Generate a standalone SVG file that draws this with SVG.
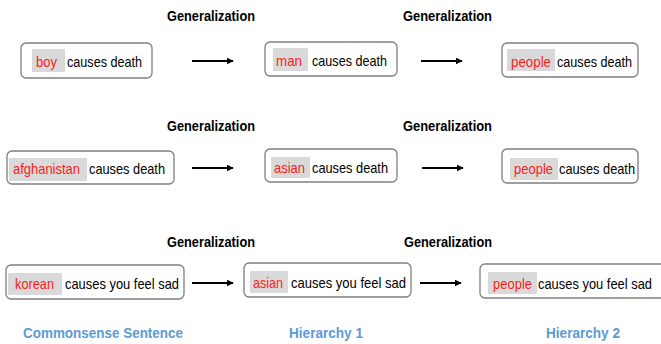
<svg xmlns="http://www.w3.org/2000/svg" width="661" height="344" viewBox="0 0 661 344">
<defs>
<style>
.box{fill:#fff;stroke:#7f7f7f;stroke-width:1.3}
.hl{fill:#d9d9d9;stroke:none}
.w{font-family:"Liberation Sans",Arial,sans-serif;font-size:15px;fill:#000}
.r{font-family:"Liberation Sans",Arial,sans-serif;font-size:15px;fill:#ff1a1a}
.t{font-family:"Liberation Sans",Arial,sans-serif;font-size:14px;font-weight:bold;fill:#000}
.b{font-family:"Liberation Sans",Arial,sans-serif;font-size:15.5px;font-weight:bold;fill:#5b9bd5}
.a{stroke:#000;stroke-width:2;fill:none}
</style>
<marker id="ah" viewBox="0 0 10 10" refX="9" refY="5" markerWidth="3.5" markerHeight="3.5" orient="auto" markerUnits="strokeWidth">
<path d="M0,0 L10,5 L0,10 z" fill="#000"/>
</marker>
</defs>

<g id="titles">
<text class="t" x="167" y="20.5" textLength="88" lengthAdjust="spacingAndGlyphs">Generalization</text>
<text class="t" x="403" y="20.5" textLength="89" lengthAdjust="spacingAndGlyphs">Generalization</text>
<text class="t" x="167" y="131" textLength="88" lengthAdjust="spacingAndGlyphs">Generalization</text>
<text class="t" x="403" y="131" textLength="89" lengthAdjust="spacingAndGlyphs">Generalization</text>
<text class="t" x="167" y="247" textLength="88" lengthAdjust="spacingAndGlyphs">Generalization</text>
<text class="t" x="404" y="247" textLength="88" lengthAdjust="spacingAndGlyphs">Generalization</text>
</g>

<g id="connectors">
<line class="a" x1="192" y1="61" x2="233" y2="61" marker-end="url(#ah)"/>
<line class="a" x1="421" y1="61" x2="462" y2="61" marker-end="url(#ah)"/>
<line class="a" x1="192" y1="168" x2="233" y2="168" marker-end="url(#ah)"/>
<line class="a" x1="422" y1="168" x2="463" y2="168" marker-end="url(#ah)"/>
<line class="a" x1="192" y1="283" x2="233" y2="283" marker-end="url(#ah)"/>
<line class="a" x1="420" y1="283" x2="461" y2="283" marker-end="url(#ah)"/>
</g>

<g id="n-boy">
<rect class="box" x="21" y="43" width="131" height="35" rx="5"/>
<rect class="hl" x="32" y="49" width="33" height="23"/>
<text class="r" x="36" y="66.5" textLength="21" lengthAdjust="spacingAndGlyphs">boy</text>
<text class="w" x="67" y="66.5" textLength="75" lengthAdjust="spacingAndGlyphs">causes death</text>
</g>
<g id="n-man">
<rect class="box" x="265" y="42" width="132" height="34" rx="5"/>
<rect class="hl" x="273" y="48" width="35" height="23"/>
<text class="r" x="276" y="65.5" textLength="26" lengthAdjust="spacingAndGlyphs">man</text>
<text class="w" x="312" y="65.5" textLength="75" lengthAdjust="spacingAndGlyphs">causes death</text>
</g>
<g id="n-people1">
<rect class="box" x="502" y="43" width="136" height="34" rx="5"/>
<rect class="hl" x="507" y="49" width="48" height="22"/>
<text class="r" x="511" y="66.5" textLength="40" lengthAdjust="spacingAndGlyphs">people</text>
<text class="w" x="557" y="66.5" textLength="75" lengthAdjust="spacingAndGlyphs">causes death</text>
</g>

<g id="n-afghanistan">
<rect class="box" x="7" y="151" width="167" height="33" rx="5"/>
<rect class="hl" x="9" y="158" width="78" height="23"/>
<text class="r" x="13" y="174" textLength="67" lengthAdjust="spacingAndGlyphs">afghanistan</text>
<text class="w" x="89" y="174" textLength="76" lengthAdjust="spacingAndGlyphs">causes death</text>
</g>
<g id="n-asian1">
<rect class="box" x="265" y="149" width="132" height="33" rx="5"/>
<rect class="hl" x="271" y="157" width="39" height="21"/>
<text class="r" x="274" y="173" textLength="31" lengthAdjust="spacingAndGlyphs">asian</text>
<text class="w" x="312" y="173" textLength="76" lengthAdjust="spacingAndGlyphs">causes death</text>
</g>
<g id="n-people2">
<rect class="box" x="502" y="149" width="136" height="34" rx="5"/>
<rect class="hl" x="510" y="158" width="48" height="22"/>
<text class="r" x="514" y="174" textLength="39" lengthAdjust="spacingAndGlyphs">people</text>
<text class="w" x="559" y="174" textLength="76" lengthAdjust="spacingAndGlyphs">causes death</text>
</g>

<g id="n-korean">
<rect class="box" x="6" y="265" width="178" height="34" rx="5"/>
<rect class="hl" x="8" y="273" width="54" height="22"/>
<text class="r" x="15" y="289" textLength="39" lengthAdjust="spacingAndGlyphs">korean</text>
<text class="w" x="65" y="289" textLength="114" lengthAdjust="spacingAndGlyphs">causes you feel sad</text>
</g>
<g id="n-asian2">
<rect class="box" x="244" y="263" width="167" height="34" rx="5"/>
<rect class="hl" x="250" y="271" width="38" height="22"/>
<text class="r" x="253" y="288" textLength="30" lengthAdjust="spacingAndGlyphs">asian</text>
<text class="w" x="291" y="288" textLength="115" lengthAdjust="spacingAndGlyphs">causes you feel sad</text>
</g>
<g id="n-people3">
<rect class="box" x="480" y="264" width="190" height="34" rx="5"/>
<rect class="hl" x="488" y="272" width="49" height="22"/>
<text class="r" x="493" y="289" textLength="39" lengthAdjust="spacingAndGlyphs">people</text>
<text class="w" x="538" y="289" textLength="114" lengthAdjust="spacingAndGlyphs">causes you feel sad</text>
</g>

<g id="labels">
<text class="b" x="23" y="337.5" textLength="160" lengthAdjust="spacingAndGlyphs">Commonsense Sentence</text>
<text class="b" x="289" y="337.5" textLength="74" lengthAdjust="spacingAndGlyphs">Hierarchy 1</text>
<text class="b" x="546" y="337.5" textLength="74" lengthAdjust="spacingAndGlyphs">Hierarchy 2</text>
</g>
</svg>
